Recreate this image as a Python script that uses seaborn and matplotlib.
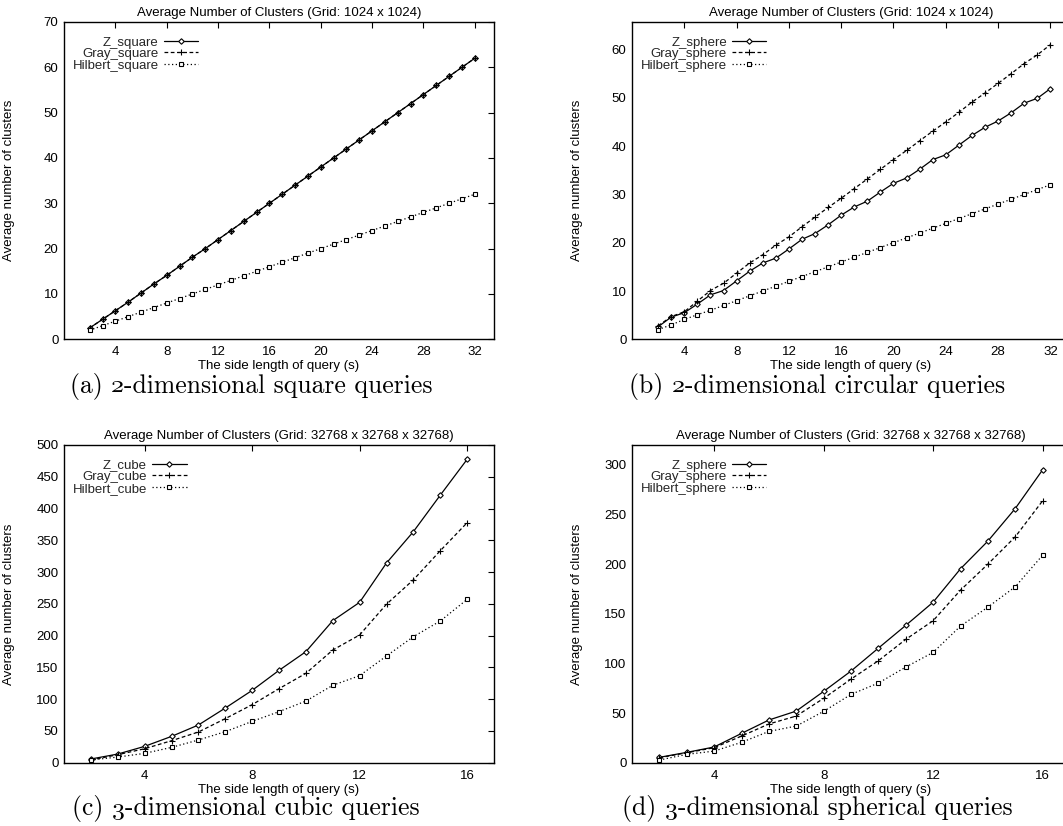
import matplotlib
matplotlib.use("Agg")
import matplotlib.pyplot as plt
import seaborn as sns
from matplotlib.offsetbox import TextArea, HPacker, AnchoredOffsetbox

# query side lengths
s_2d = [2, 3, 4, 5, 6, 7, 8, 9, 10, 11, 12, 13, 14, 15, 16, 17, 18, 19, 20,
        21, 22, 23, 24, 25, 26, 27, 28, 29, 30, 31, 32]
s_3d = [2, 3, 4, 5, 6, 7, 8, 9, 10, 11, 12, 13, 14, 15, 16]

# (a) 2-d square queries
z_square = [2.5, 4.4, 6.3, 8.2, 10.2, 12.2, 14.1, 16.1, 18.1, 20.0, 22.0, 24.0,
            26.0, 28.0, 30.0, 32.0, 34.0, 36.0, 38.0, 40.0, 42.0, 44.0, 46.0,
            48.0, 50.0, 52.0, 54.0, 56.0, 58.0, 60.0, 62.0]
gray_square = [2.5, 4.4, 6.3, 8.2, 10.2, 12.2, 14.1, 16.1, 18.1, 20.0, 22.0, 24.0,
               26.0, 28.0, 30.0, 32.0, 34.0, 36.0, 38.0, 40.0, 42.0, 44.0, 46.0,
               48.0, 50.0, 52.0, 54.0, 56.0, 58.0, 60.0, 62.0]
hilbert_square = [2.0, 3.0, 4.0, 5.0, 6.0, 7.0, 8.0, 9.0, 10.0, 11.0, 12.0, 13.0,
                  14.0, 15.0, 16.0, 17.0, 18.0, 19.0, 20.0, 21.0, 22.0, 23.0, 24.0,
                  25.0, 26.0, 27.0, 28.0, 29.0, 30.0, 31.0, 32.0]

# (b) 2-d circular queries
z_circle = [2.6, 4.6, 5.5, 7.3, 9.2, 10.1, 12.1, 14.1, 15.8, 16.8, 18.7, 20.7,
            21.9, 23.7, 25.7, 27.4, 28.6, 30.5, 32.3, 33.4, 35.2, 37.2, 38.2,
            40.2, 42.2, 43.9, 45.2, 46.9, 48.9, 49.9, 51.9]
gray_circle = [2.8, 4.7, 5.7, 7.9, 10.1, 11.6, 13.7, 15.8, 17.5, 19.5, 21.2, 23.3,
               25.3, 27.3, 29.2, 31.2, 33.2, 35.2, 37.2, 39.1, 41.1, 43.1, 45.0,
               47.0, 49.1, 51.0, 53.0, 55.0, 57.1, 58.9, 61.0]
hilbert_circle = [2.0, 3.0, 4.1, 5.1, 6.0, 7.0, 8.0, 9.0, 10.0, 11.0, 12.0, 13.0,
                  14.0, 15.0, 16.0, 17.0, 18.0, 19.0, 20.0, 21.0, 22.0, 23.0, 24.0,
                  25.0, 26.0, 27.0, 28.0, 29.0, 30.0, 31.0, 32.0]

# (c) 3-d cubic queries
z_cube = [5.8, 13.6, 25.7, 41.4, 59.3, 86.0, 113.8, 145.3, 174.7, 223.5, 252.4,
          314.3, 363.6, 421.0, 477.4]
gray_cube = [4.2, 12.6, 22.0, 34.6, 48.3, 69.3, 91.3, 116.5, 140.6, 177.3, 201.0,
             249.5, 287.8, 333.6, 377.7]
hilbert_cube = [4.2, 8.9, 14.7, 24.1, 35.7, 48.8, 65.0, 80.3, 97.0, 121.8, 137.0,
                168.0, 198.3, 223.0, 257.0]

# (d) 3-d spherical queries
z_sphere = [5.4, 10.4, 15.8, 29.5, 43.0, 52.0, 71.8, 92.3, 115.4, 138.3, 161.7,
            195.3, 223.2, 256.0, 295.0]
gray_sphere = [5.0, 10.0, 15.1, 26.8, 39.0, 47.0, 64.8, 84.2, 102.7, 124.2, 143.0,
               173.8, 200.0, 227.5, 263.8]
hilbert_sphere = [2.7, 8.4, 11.7, 20.5, 31.5, 36.9, 51.7, 68.8, 80.2, 96.3, 111.1,
                  137.6, 156.7, 177.2, 209.0]

title_2d = "Average Number of Clusters (Grid: 1024 x 1024)"
title_3d = "Average Number of Clusters (Grid: 32768 x 32768 x 32768)"

sns.set_theme(style="white")
plt.rcParams["font.family"] = ["Liberation Sans", "DejaVu Sans"]
plt.rcParams["axes.edgecolor"] = "black"
plt.rcParams["axes.linewidth"] = 1.0

W, H = 1063, 826
fig = plt.figure(figsize=(W / 100, H / 100), dpi=100)
FS = 9.5


def px_axes(left, top, right, bottom):
    return fig.add_axes([left / W, 1 - bottom / H, (right - left) / W, (bottom - top) / H])


def draw_panel(ax, x, series, names, title, xlim, ylim, xticks, yticks):
    styles = [
        dict(marker="D", markersize=2.8, markerfacecolor="white", linestyle="-"),
        dict(marker="+", markersize=4, linestyle=(0, (3, 2))),
        dict(marker="s", markersize=3.0, markerfacecolor="white", linestyle=(0, (1, 2))),
    ]
    for y, name, st in zip(series, names, styles):
        sns.lineplot(x=x, y=y, ax=ax, color="black", linewidth=0.9,
                     markeredgecolor="black", markeredgewidth=0.8, label=name, **st)
    ax.set_xlim(*xlim)
    ax.set_ylim(*ylim)
    ax.set_xticks(xticks)
    ax.set_yticks(yticks)
    ax.tick_params(direction="in", length=4, width=0.8, top=True, right=True,
                   labelsize=FS, colors="black")
    ax.tick_params(axis="x", pad=5)
    ax.tick_params(axis="y", pad=4)
    ax.set_title(title, fontsize=FS, pad=4, color="black")
    ax.set_xlabel("The side length of query (s)", fontsize=FS, labelpad=1.5, color="black")
    ax.set_ylabel("Average number of clusters", fontsize=FS, color="black")
    ax.yaxis.set_label_coords(-0.113, 0.5)
    for sp in ax.spines.values():
        sp.set_color("black")
    ax.legend(loc="upper left", bbox_to_anchor=(0.02, 0.955), frameon=False,
              markerfirst=False, fontsize=FS, handlelength=2.6, handletextpad=0.4,
              labelspacing=-0.05, borderpad=0, borderaxespad=0)


def caption(cx, cy, label, digit, rest):
    # roman text with an old-style italic digit, like the LaTeX caption
    parts = [
        TextArea(label, textprops=dict(family="cmr10", size=18.5, color="black")),
        TextArea(digit, textprops=dict(family="cmmi10", size=18.5, color="black")),
        TextArea(rest, textprops=dict(family="cmr10", size=18.5, color="black")),
    ]
    box = HPacker(children=parts, align="baseline", pad=0, sep=0)
    anchored = AnchoredOffsetbox(loc="center", child=box, pad=0, borderpad=0,
                                 frameon=False, bbox_to_anchor=(cx / W, 1 - cy / H),
                                 bbox_transform=fig.transFigure)
    fig.add_artist(anchored)


ax_a = px_axes(64, 22, 494, 339.3)
ax_b = px_axes(632, 22, 1070, 339.3)
ax_c = px_axes(64, 445, 494, 762.7)
ax_d = px_axes(632, 445, 1070, 762.7)

ticks_2d = [4, 8, 12, 16, 20, 24, 28, 32]
ticks_3d = [4, 8, 12, 16]

draw_panel(ax_a, s_2d, [z_square, gray_square, hilbert_square],
           ["Z_square", "Gray_square", "Hilbert_square"], title_2d,
           (0, 33.5), (0, 70), ticks_2d, [0, 10, 20, 30, 40, 50, 60, 70])
draw_panel(ax_b, s_2d, [z_circle, gray_circle, hilbert_circle],
           ["Z_sphere", "Gray_sphere", "Hilbert_sphere"], title_2d,
           (0, 33.5), (0, 65.7), ticks_2d, [0, 10, 20, 30, 40, 50, 60])
draw_panel(ax_c, s_3d, [z_cube, gray_cube, hilbert_cube],
           ["Z_cube", "Gray_cube", "Hilbert_cube"], title_3d,
           (1, 17), (0, 500), ticks_3d, [0, 50, 100, 150, 200, 250, 300, 350, 400, 450, 500])
draw_panel(ax_d, s_3d, [z_sphere, gray_sphere, hilbert_sphere],
           ["Z_sphere", "Gray_sphere", "Hilbert_sphere"], title_3d,
           (1, 17), (0, 320), ticks_3d, [0, 50, 100, 150, 200, 250, 300])

caption(251, 386, "(a) ", "2", "-dimensional square queries")
caption(817, 386, "(b) ", "2", "-dimensional circular queries")
caption(246, 808, "(c) ", "3", "-dimensional cubic queries")
caption(817, 808, "(d) ", "3", "-dimensional spherical queries")

fig.savefig("out.png", dpi=100)
